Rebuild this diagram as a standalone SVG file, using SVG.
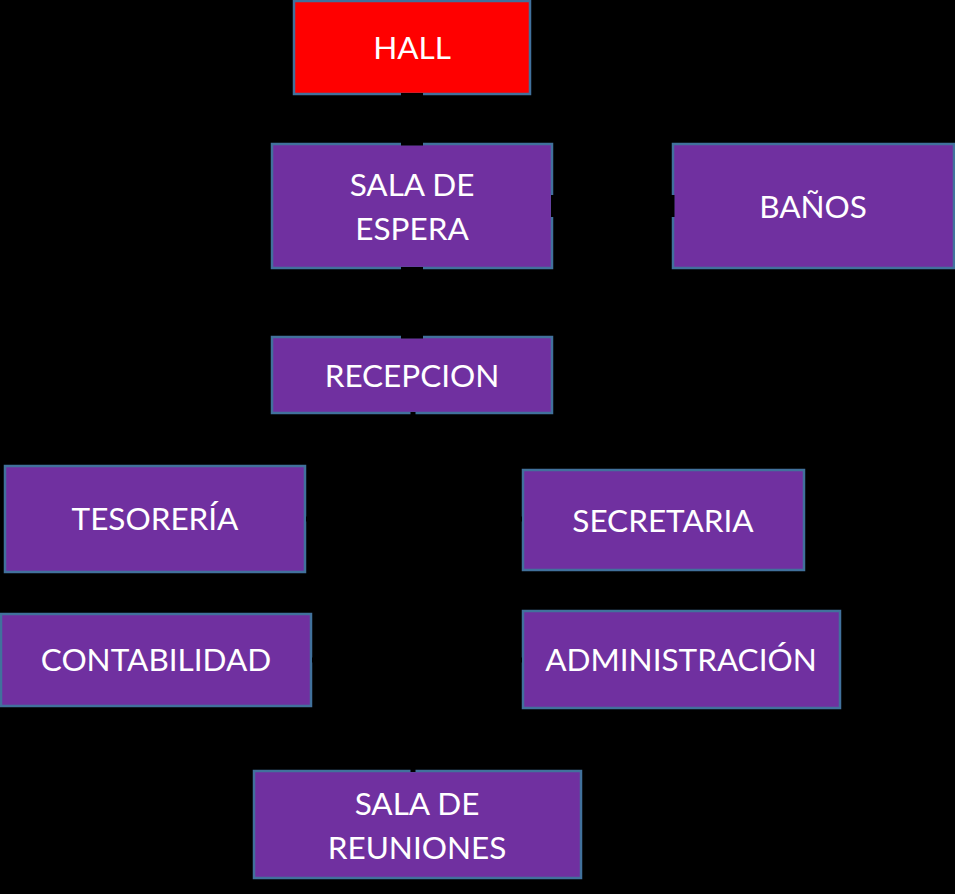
<svg xmlns="http://www.w3.org/2000/svg" width="955" height="894" viewBox="0 0 955 894">
<style>
.box{fill:#7030A0;stroke:#41719C;stroke-width:2.5}
.red{fill:#FF0000;stroke:#41719C;stroke-width:2.5}
.t{font-family:Lato,"Open Sans","Liberation Sans",sans-serif;font-size:31.5px;fill:#FFFFFF;text-anchor:middle}
.c{stroke:#000000;fill:none}
</style>
<rect width="955" height="894" fill="#000000"/>
<g id="hall"><rect class="red" x="294" y="1" width="236" height="93"/><text class="t" x="412" y="59">HALL</text></g>
<g id="sala-espera"><rect class="box" x="272" y="144" width="280" height="124"/><text class="t" x="412" y="196">SALA DE</text><text class="t" x="412" y="240">ESPERA</text></g>
<g id="banos"><rect class="box" x="673" y="144" width="281" height="124"/><text class="t" x="813" y="218">BAÑOS</text></g>
<g id="recepcion"><rect class="box" x="272" y="337" width="280" height="76"/><text class="t" x="412" y="387">RECEPCION</text></g>
<g id="tesoreria"><rect class="box" x="5" y="466" width="300" height="106"/><text class="t" x="155" y="530">TESORERÍA</text></g>
<g id="secretaria"><rect class="box" x="523" y="470" width="281" height="100"/><text class="t" x="663" y="532">SECRETARIA</text></g>
<g id="contabilidad"><rect class="box" x="1" y="614" width="310" height="92"/><text class="t" x="156" y="671">CONTABILIDAD</text></g>
<g id="administracion"><rect class="box" x="523" y="611" width="317" height="97"/><text class="t" x="681" y="671">ADMINISTRACIÓN</text></g>
<g id="sala-reuniones"><rect class="box" x="254" y="771" width="327" height="107"/><text class="t" x="417" y="815">SALA DE</text><text class="t" x="417" y="859">REUNIONES</text></g>
<g id="connectors">
<line class="c" x1="412" y1="93" x2="412" y2="145.5" stroke-width="22"/>
<line class="c" x1="551" y1="206" x2="674.5" y2="206" stroke-width="22"/>
<line class="c" x1="412" y1="267" x2="412" y2="338.5" stroke-width="22"/>
<path class="c" d="M413 412 V772 M306 519 H522 M312 660 H522" stroke-width="5"/>
</g>
</svg>
